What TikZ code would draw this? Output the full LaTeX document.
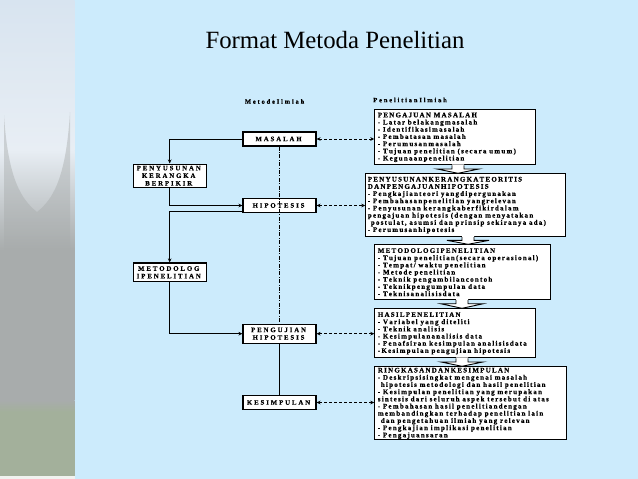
\documentclass[tikz,border=0pt]{standalone}
\usepackage{fontspec}
\setmainfont{Liberation Serif}
\newfontfamily\bxf[FakeBold=0.5]{Liberation Serif}
\usetikzlibrary{arrows.meta,calc}
\definecolor{bg}{RGB}{204,235,252}
\definecolor{sky}{RGB}{216,228,240}
\definecolor{skyb}{RGB}{232,238,244}
\definecolor{roof}{RGB}{168,172,172}
\definecolor{grass}{RGB}{163,176,155}
% manual letter spacing (em based)
\def\lswords#1 #2\lsend{\lsletters#1\relax\ifx\relax#2\relax\else\kern0.22em\lswords#2\lsend\fi}
\def\lsletters#1{\ifx#1\relax\else#1\kern\lscur\expandafter\lsletters\fi}
\def\lstext#1{\def\lscur{0.177em}\lswords#1 \lsend}
\def\lswide#1{\def\lscur{0.28em}\lswords#1 \lsend}
\tikzset{
  lbox/.style={draw, line width=1.1pt, fill=white, minimum width=73pt, inner sep=1pt, align=center,
    font=\bxf\bfseries\fontsize{6.8}{7.6}\selectfont},
  rbox/.style={draw, line width=1.1pt, fill=white, anchor=north west, inner xsep=3pt, inner ysep=1pt, align=left,
    font=\bxf\bfseries\fontsize{7}{7.2}\selectfont},
  hdr/.style={font=\bxf\bfseries\fontsize{6.5}{7}\selectfont},
  flow/.style={line width=0.9pt, -{Stealth[length=4pt,width=3.6pt]}},
  link/.style={line width=0.9pt, dash pattern=on 3pt off 2pt, {Stealth[length=4pt,width=3.6pt]}-{Stealth[length=4pt,width=3.6pt]}},
  dashdot/.style={line width=0.4pt, dash pattern=on 4pt off 1.5pt on 0.8pt off 1.5pt},
  barrow/.style={line width=0.9pt}
}
% block arrow from box #1 down to box #2, centred on coordinate #3
\newcommand\blockarr[3]{%
  \path (#1.south -| #3) coordinate (bt) (#2.north -| #3) coordinate (bb) ($(bt)!0.45!(bb)$) coordinate (bm);
  \fill[white] ([xshift=-6pt,yshift=1pt]bt) -- ([xshift=-6pt]bm) -- ([xshift=-21pt]bm) -- (bb) -- ([xshift=21pt]bm) -- ([xshift=6pt]bm) -- ([xshift=6pt,yshift=1pt]bt) -- cycle;
  \draw[barrow] ([xshift=-6pt]bt) -- ([xshift=-6pt]bm) -- ([xshift=-21pt]bm) -- (bb) -- ([xshift=21pt]bm) -- ([xshift=6pt]bm) -- ([xshift=6pt]bt);
}
\begin{document}
\begin{tikzpicture}[x=1pt,y=-1pt]
\useasboundingbox (0,0) rectangle (638,479);
\fill[bg] (0,0) rectangle (638,479);
% left photo strip
\shade[top color=sky, bottom color=skyb] (0,0) rectangle (74.5,150);
\shade[top color=skyb, bottom color=roof] (0,150) rectangle (74.5,250);
\fill[roof] (0,250) rectangle (74.5,400);
\shade[top color=roof, bottom color=grass] (0,400) rectangle (74.5,412);
\fill[grass] (0,412) rectangle (74.5,476);
\fill[white!85!grass] (0,476) rectangle (74.5,479);
\fill[roof, opacity=0.45] (4,115) .. controls (8,180) and (22,200) .. (37,212) .. controls (52,200) and (66,180) .. (70,112) -- (70,250) -- (4,250) -- cycle;

\node[font=\fontsize{24.8}{28}\selectfont] (title) at (335,40) {Format Metoda Penelitian};
\node[hdr] (h1) at (275.5,101.5) {\lswide{MetodeIlmiah}};
\node[hdr] (h2) at (411,100) {\lswide{PenelitianIlmiah}};

% left column
\node[lbox, minimum height=14pt] (mas) at (279.5,139) {\lswide{MASALAH}};
\node[lbox, minimum height=23.3pt] (pen) at (169.7,175.7) {\lswide{PENYUSUNAN}\\\lswide{KERANGKA}\\\lswide{BERPIKIR}};
\node[lbox, minimum height=13.6pt] (hip) at (279.5,205.5) {\lswide{HIPOTESIS}};
\node[lbox, minimum height=18.7pt] (met) at (169.7,272.3) {\lswide{METODOLOG}\\\lswide{IPENELITIAN}};
\node[lbox, minimum height=19.3pt] (uji) at (279.5,333.7) {\lswide{PENGUJIAN}\\\lswide{HIPOTESIS}};
\node[lbox, minimum height=13.6pt] (kes) at (279.5,402.5) {\lswide{KESIMPULAN}};

% right column
\node[rbox, text width=154.7pt, minimum height=55pt] (r1) at (374.3,109.3) {\lstext{PENGAJUAN MASALAH}\\
\lstext{- Latar belakangmasalah}\\
\lstext{- Identifikasimasalah}\\
\lstext{- Pembatasan masalah}\\
\lstext{- Perumusanmasalah}\\
\lstext{- Tujuan penelitian (secara umum)}\\
\lstext{- Kegunaanpenelitian}};
\node[rbox, text width=196pt, inner xsep=2pt, minimum height=62.7pt] (r2) at (365.3,173.3) {\lstext{PENYUSUNANKERANGKATEORITIS}\\
\lstext{DANPENGAJUANHIPOTESIS}\\
\lstext{- Pengkajianteori yangdipergunakan}\\
\lstext{- Pembahasanpenelitian yangrelevan}\\
\lstext{- Penyusunan kerangkaberfikirdalam}\\
\lstext{pengajuan hipotesis (dengan menyatakan}\\
\hspace*{3pt}\lstext{postulat, asumsi dan prinsip sekiranya ada)}\\
\lstext{- Perumusanhipotesis}};
\node[rbox, text width=169.7pt, minimum height=54.7pt] (r3) at (374.3,244.3) {\lstext{METODOLOGIPENELITIAN}\\
\lstext{- Tujuan penelitian(secara operasional)}\\
\lstext{- Tempat/ waktu penelitian}\\
\lstext{- Metode penelitian}\\
\lstext{- Teknik pengambilancontoh}\\
\lstext{- Teknikpengumpulan data}\\
\lstext{- Teknisanalisisdata}};
\node[rbox, text width=154.7pt, minimum height=49pt] (r4) at (374.3,308.3) {\lstext{HASILPENELITIAN}\\
\lstext{- Variabel yang diteliti}\\
\lstext{- Teknik analisis}\\
\lstext{- Kesimpulananalisis data}\\
\lstext{- Penafsiran kesimpulan analisisdata}\\
\lstext{-Kesimpulan pengujian hipotesis}};
\node[rbox, text width=185.2pt, minimum height=73pt] (r5) at (374.3,366.3) {\lstext{RINGKASANDANKESIMPULAN}\\
\lstext{- Deskripsisingkat mengenai masalah}\\
\hspace*{3pt}\lstext{hipotesis metodologi dan hasil penelitian}\\
\lstext{- Kesimpulan penelitian yang merupakan}\\
\lstext{sintesis dari seluruh aspek tersebut di atas}\\
\lstext{- Pembahasan hasil penelitiandengan}\\
\lstext{membandingkan terhadap penelitian lain}\\
\hspace*{3pt}\lstext{dan pengetahuan ilmiah yang relevan}\\
\lstext{- Pengkajian implikasi penelitian}\\
\lstext{- Pengajuansaran}};

% block arrows between right boxes
\coordinate (ax1) at (458,0);
\coordinate (ax2) at (468,0);
\coordinate (ax3) at (462,0);
\coordinate (ax4) at (462,0);
\blockarr{r1}{r2}{ax1}
\blockarr{r2}{r3}{ax2}
\blockarr{r3}{r4}{ax3}
\blockarr{r4}{r5}{ax4}

% flow connectors
\draw[flow] (mas.west) -| (pen.north);
\draw[flow] (pen.south) |- (hip.west);
\draw[flow] ([yshift=1.5pt]hip.south west) -| (met.north);
\draw[flow] (met.south) |- (uji.west);
\draw[dashdot] (mas.south) -- (uji.north);
\draw[line width=0.9pt] (uji.south) -- (kes.north);

% dashed links
\draw[link] (mas.east) -- (mas.east -| r1.west);
\draw[link] (hip.east) -- (hip.east -| r2.west);
\draw[link] (uji.east) -- (uji.east -| r4.west);
\draw[link] (kes.east) -- (kes.east -| r5.west);
\end{tikzpicture}
\end{document}
